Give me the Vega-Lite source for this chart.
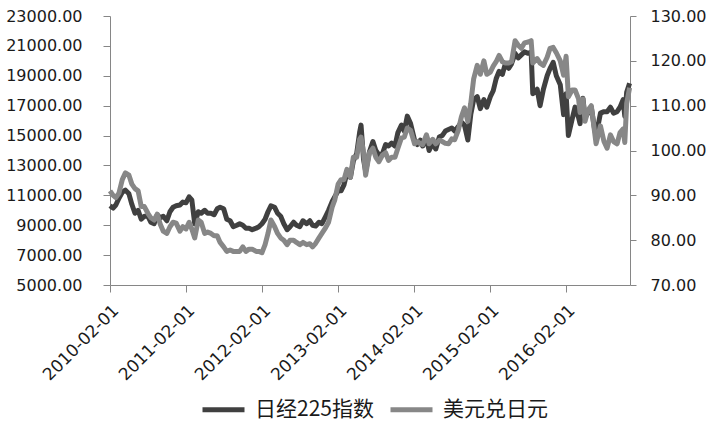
{
  "$schema": "https://vega.github.io/schema/vega-lite/v6.json",
  "width": 520,
  "height": 269,
  "autosize": {"type": "none"},
  "padding": {"left": 110, "top": 16, "right": 83, "bottom": 140},
  "background": "white",
  "config": {
    "view": {"stroke": null},
    "axis": {"labelFont": "DejaVu Sans", "labelFontSize": 16, "labelColor": "#1a1a1a", "domainColor": "#868686", "tickColor": "#868686", "grid": false, "ticks": true, "title": null}
  },
  "data": {"values": [
    {"date": "2010-02-01", "nikkei": 10300, "usdjpy": 91.0},
    {"date": "2010-02-16", "nikkei": 10150, "usdjpy": 90.0},
    {"date": "2010-03-01", "nikkei": 10350, "usdjpy": 89.5},
    {"date": "2010-03-16", "nikkei": 10800, "usdjpy": 90.5},
    {"date": "2010-04-01", "nikkei": 11200, "usdjpy": 93.5},
    {"date": "2010-04-16", "nikkei": 11350, "usdjpy": 95.0},
    {"date": "2010-05-03", "nikkei": 11100, "usdjpy": 94.5},
    {"date": "2010-05-17", "nikkei": 10400, "usdjpy": 92.5},
    {"date": "2010-06-01", "nikkei": 9800, "usdjpy": 91.5},
    {"date": "2010-06-16", "nikkei": 10000, "usdjpy": 91.0},
    {"date": "2010-07-01", "nikkei": 9400, "usdjpy": 87.5},
    {"date": "2010-07-16", "nikkei": 9600, "usdjpy": 87.5},
    {"date": "2010-08-02", "nikkei": 9600, "usdjpy": 86.0},
    {"date": "2010-08-16", "nikkei": 9200, "usdjpy": 85.0},
    {"date": "2010-09-01", "nikkei": 9100, "usdjpy": 84.5},
    {"date": "2010-09-16", "nikkei": 9700, "usdjpy": 85.8},
    {"date": "2010-10-01", "nikkei": 9500, "usdjpy": 83.5},
    {"date": "2010-10-15", "nikkei": 9600, "usdjpy": 82.0},
    {"date": "2010-11-01", "nikkei": 9300, "usdjpy": 81.5},
    {"date": "2010-11-16", "nikkei": 9900, "usdjpy": 83.0},
    {"date": "2010-12-01", "nikkei": 10200, "usdjpy": 84.0},
    {"date": "2010-12-16", "nikkei": 10300, "usdjpy": 83.8},
    {"date": "2011-01-03", "nikkei": 10350, "usdjpy": 82.0},
    {"date": "2011-01-17", "nikkei": 10550, "usdjpy": 83.0},
    {"date": "2011-02-01", "nikkei": 10500, "usdjpy": 82.5},
    {"date": "2011-02-16", "nikkei": 10900, "usdjpy": 84.0},
    {"date": "2011-03-01", "nikkei": 10700, "usdjpy": 82.5},
    {"date": "2011-03-15", "nikkei": 9100, "usdjpy": 80.5},
    {"date": "2011-04-01", "nikkei": 9900, "usdjpy": 84.5},
    {"date": "2011-04-15", "nikkei": 9800, "usdjpy": 84.0},
    {"date": "2011-05-02", "nikkei": 10000, "usdjpy": 81.5},
    {"date": "2011-05-16", "nikkei": 9800, "usdjpy": 81.8},
    {"date": "2011-06-01", "nikkei": 9800, "usdjpy": 81.5},
    {"date": "2011-06-16", "nikkei": 9700, "usdjpy": 81.0},
    {"date": "2011-07-01", "nikkei": 10100, "usdjpy": 81.0},
    {"date": "2011-07-15", "nikkei": 10200, "usdjpy": 79.5},
    {"date": "2011-08-01", "nikkei": 10100, "usdjpy": 78.5},
    {"date": "2011-08-16", "nikkei": 9400, "usdjpy": 77.5},
    {"date": "2011-09-01", "nikkei": 9300, "usdjpy": 77.8},
    {"date": "2011-09-16", "nikkei": 8900, "usdjpy": 77.5},
    {"date": "2011-10-03", "nikkei": 9000, "usdjpy": 77.5},
    {"date": "2011-10-17", "nikkei": 9100, "usdjpy": 77.5},
    {"date": "2011-11-01", "nikkei": 9000, "usdjpy": 78.5},
    {"date": "2011-11-16", "nikkei": 8800, "usdjpy": 77.5},
    {"date": "2011-12-01", "nikkei": 8800, "usdjpy": 78.0},
    {"date": "2011-12-16", "nikkei": 8700, "usdjpy": 78.0},
    {"date": "2012-01-04", "nikkei": 8800, "usdjpy": 77.5},
    {"date": "2012-01-17", "nikkei": 8900, "usdjpy": 77.5},
    {"date": "2012-02-01", "nikkei": 9100, "usdjpy": 77.2},
    {"date": "2012-02-16", "nikkei": 9400, "usdjpy": 79.0},
    {"date": "2012-03-01", "nikkei": 9900, "usdjpy": 81.5},
    {"date": "2012-03-15", "nikkei": 10300, "usdjpy": 84.5},
    {"date": "2012-04-02", "nikkei": 10200, "usdjpy": 83.0},
    {"date": "2012-04-16", "nikkei": 9800, "usdjpy": 81.5},
    {"date": "2012-05-01", "nikkei": 9600, "usdjpy": 80.5},
    {"date": "2012-05-16", "nikkei": 9100, "usdjpy": 80.0},
    {"date": "2012-06-01", "nikkei": 8700, "usdjpy": 79.0},
    {"date": "2012-06-15", "nikkei": 8900, "usdjpy": 80.0},
    {"date": "2012-07-02", "nikkei": 9200, "usdjpy": 80.0},
    {"date": "2012-07-16", "nikkei": 9000, "usdjpy": 79.5},
    {"date": "2012-08-01", "nikkei": 8900, "usdjpy": 79.0},
    {"date": "2012-08-16", "nikkei": 9300, "usdjpy": 79.5},
    {"date": "2012-09-03", "nikkei": 9100, "usdjpy": 79.0},
    {"date": "2012-09-18", "nikkei": 9300, "usdjpy": 79.2},
    {"date": "2012-10-01", "nikkei": 9000, "usdjpy": 78.5},
    {"date": "2012-10-16", "nikkei": 8950, "usdjpy": 79.3},
    {"date": "2012-11-01", "nikkei": 9200, "usdjpy": 80.5},
    {"date": "2012-11-15", "nikkei": 9100, "usdjpy": 81.5},
    {"date": "2012-12-03", "nikkei": 9600, "usdjpy": 82.8},
    {"date": "2012-12-17", "nikkei": 10000, "usdjpy": 84.0},
    {"date": "2013-01-04", "nikkei": 10600, "usdjpy": 87.5},
    {"date": "2013-01-16", "nikkei": 10900, "usdjpy": 89.0},
    {"date": "2013-02-01", "nikkei": 11300, "usdjpy": 92.5},
    {"date": "2013-02-15", "nikkei": 11300, "usdjpy": 93.5},
    {"date": "2013-03-01", "nikkei": 11700, "usdjpy": 93.5},
    {"date": "2013-03-15", "nikkei": 12500, "usdjpy": 95.8},
    {"date": "2013-04-01", "nikkei": 12200, "usdjpy": 94.0},
    {"date": "2013-04-15", "nikkei": 13300, "usdjpy": 98.5},
    {"date": "2013-05-01", "nikkei": 13800, "usdjpy": 98.5},
    {"date": "2013-05-15", "nikkei": 15200, "usdjpy": 102.5},
    {"date": "2013-05-22", "nikkei": 15700, "usdjpy": 103.0},
    {"date": "2013-06-03", "nikkei": 13400, "usdjpy": 99.5},
    {"date": "2013-06-13", "nikkei": 12600, "usdjpy": 94.5},
    {"date": "2013-07-01", "nikkei": 13900, "usdjpy": 99.5},
    {"date": "2013-07-18", "nikkei": 14600, "usdjpy": 100.5},
    {"date": "2013-08-01", "nikkei": 14000, "usdjpy": 98.5},
    {"date": "2013-08-16", "nikkei": 13700, "usdjpy": 97.5},
    {"date": "2013-09-02", "nikkei": 13800, "usdjpy": 99.0},
    {"date": "2013-09-17", "nikkei": 14400, "usdjpy": 99.5},
    {"date": "2013-10-01", "nikkei": 14300, "usdjpy": 97.8},
    {"date": "2013-10-16", "nikkei": 14500, "usdjpy": 98.5},
    {"date": "2013-11-01", "nikkei": 14300, "usdjpy": 98.5},
    {"date": "2013-11-15", "nikkei": 15200, "usdjpy": 100.5},
    {"date": "2013-12-02", "nikkei": 15700, "usdjpy": 102.8},
    {"date": "2013-12-16", "nikkei": 15300, "usdjpy": 103.0},
    {"date": "2013-12-30", "nikkei": 16300, "usdjpy": 105.0},
    {"date": "2014-01-15", "nikkei": 15800, "usdjpy": 104.5},
    {"date": "2014-02-03", "nikkei": 14700, "usdjpy": 101.5},
    {"date": "2014-02-17", "nikkei": 14400, "usdjpy": 102.0},
    {"date": "2014-03-03", "nikkei": 14700, "usdjpy": 101.5},
    {"date": "2014-03-14", "nikkei": 14300, "usdjpy": 101.3},
    {"date": "2014-04-01", "nikkei": 14800, "usdjpy": 103.5},
    {"date": "2014-04-14", "nikkei": 14000, "usdjpy": 101.5},
    {"date": "2014-05-01", "nikkei": 14500, "usdjpy": 102.5},
    {"date": "2014-05-16", "nikkei": 14100, "usdjpy": 101.5},
    {"date": "2014-06-02", "nikkei": 14900, "usdjpy": 102.3},
    {"date": "2014-06-16", "nikkei": 15000, "usdjpy": 102.0},
    {"date": "2014-07-01", "nikkei": 15300, "usdjpy": 101.6},
    {"date": "2014-07-16", "nikkei": 15400, "usdjpy": 101.5},
    {"date": "2014-08-01", "nikkei": 15500, "usdjpy": 102.6},
    {"date": "2014-08-15", "nikkei": 15300, "usdjpy": 102.4},
    {"date": "2014-09-01", "nikkei": 15600, "usdjpy": 104.5},
    {"date": "2014-09-16", "nikkei": 15900, "usdjpy": 107.5},
    {"date": "2014-10-01", "nikkei": 15700, "usdjpy": 109.5},
    {"date": "2014-10-17", "nikkei": 14700, "usdjpy": 106.5},
    {"date": "2014-10-31", "nikkei": 16400, "usdjpy": 110.5},
    {"date": "2014-11-14", "nikkei": 17400, "usdjpy": 116.0},
    {"date": "2014-12-01", "nikkei": 17600, "usdjpy": 119.0},
    {"date": "2014-12-16", "nikkei": 16800, "usdjpy": 117.0},
    {"date": "2015-01-02", "nikkei": 17400, "usdjpy": 120.0},
    {"date": "2015-01-16", "nikkei": 16900, "usdjpy": 117.0},
    {"date": "2015-02-02", "nikkei": 17600, "usdjpy": 117.5},
    {"date": "2015-02-16", "nikkei": 18000, "usdjpy": 118.8},
    {"date": "2015-03-02", "nikkei": 18800, "usdjpy": 119.8},
    {"date": "2015-03-16", "nikkei": 19300, "usdjpy": 121.2},
    {"date": "2015-04-01", "nikkei": 19100, "usdjpy": 119.8},
    {"date": "2015-04-15", "nikkei": 19800, "usdjpy": 119.5},
    {"date": "2015-05-01", "nikkei": 19500, "usdjpy": 119.5},
    {"date": "2015-05-15", "nikkei": 19800, "usdjpy": 119.8},
    {"date": "2015-06-01", "nikkei": 20500, "usdjpy": 124.5},
    {"date": "2015-06-16", "nikkei": 20200, "usdjpy": 123.5},
    {"date": "2015-07-01", "nikkei": 20400, "usdjpy": 122.8},
    {"date": "2015-07-16", "nikkei": 20600, "usdjpy": 124.0},
    {"date": "2015-08-03", "nikkei": 20500, "usdjpy": 124.2},
    {"date": "2015-08-17", "nikkei": 20600, "usdjpy": 124.5},
    {"date": "2015-08-25", "nikkei": 17800, "usdjpy": 119.5},
    {"date": "2015-09-15", "nikkei": 18100, "usdjpy": 120.5},
    {"date": "2015-09-29", "nikkei": 17000, "usdjpy": 119.5},
    {"date": "2015-10-15", "nikkei": 18100, "usdjpy": 119.0},
    {"date": "2015-11-02", "nikkei": 19000, "usdjpy": 120.8},
    {"date": "2015-11-16", "nikkei": 19500, "usdjpy": 122.8},
    {"date": "2015-12-01", "nikkei": 19900, "usdjpy": 123.0},
    {"date": "2015-12-16", "nikkei": 19000, "usdjpy": 121.8},
    {"date": "2016-01-04", "nikkei": 18400, "usdjpy": 120.0},
    {"date": "2016-01-20", "nikkei": 16400, "usdjpy": 116.8},
    {"date": "2016-02-01", "nikkei": 17800, "usdjpy": 121.0},
    {"date": "2016-02-12", "nikkei": 15000, "usdjpy": 112.0},
    {"date": "2016-03-01", "nikkei": 16100, "usdjpy": 113.5},
    {"date": "2016-03-15", "nikkei": 16900, "usdjpy": 113.5},
    {"date": "2016-04-01", "nikkei": 16200, "usdjpy": 111.5},
    {"date": "2016-04-08", "nikkei": 15800, "usdjpy": 108.5},
    {"date": "2016-04-22", "nikkei": 17500, "usdjpy": 111.5},
    {"date": "2016-05-02", "nikkei": 16200, "usdjpy": 106.5},
    {"date": "2016-05-16", "nikkei": 16500, "usdjpy": 109.0},
    {"date": "2016-06-01", "nikkei": 16900, "usdjpy": 110.0},
    {"date": "2016-06-16", "nikkei": 15500, "usdjpy": 104.5},
    {"date": "2016-06-24", "nikkei": 14950, "usdjpy": 101.5},
    {"date": "2016-07-15", "nikkei": 16500, "usdjpy": 105.5},
    {"date": "2016-08-01", "nikkei": 16600, "usdjpy": 102.0},
    {"date": "2016-08-16", "nikkei": 16600, "usdjpy": 100.5},
    {"date": "2016-09-01", "nikkei": 16900, "usdjpy": 103.5},
    {"date": "2016-09-16", "nikkei": 16500, "usdjpy": 102.0},
    {"date": "2016-10-03", "nikkei": 16600, "usdjpy": 101.5},
    {"date": "2016-10-17", "nikkei": 16900, "usdjpy": 104.0},
    {"date": "2016-11-01", "nikkei": 17400, "usdjpy": 104.8},
    {"date": "2016-11-09", "nikkei": 16300, "usdjpy": 101.8},
    {"date": "2016-11-18", "nikkei": 17900, "usdjpy": 110.5},
    {"date": "2016-12-02", "nikkei": 18500, "usdjpy": 114.0}
  ]},
  "encoding": {
    "x": {
      "field": "date", "type": "temporal",
      "scale": {"type": "utc", "domain": [{"year": 2010, "month": 2, "date": 1, "utc": true}, {"year": 2016, "month": 12, "date": 4, "utc": true}]},
      "axis": {
        "values": [
          {"year": 2010, "month": 2, "date": 1, "utc": true},
          {"year": 2011, "month": 2, "date": 1, "utc": true},
          {"year": 2012, "month": 2, "date": 1, "utc": true},
          {"year": 2013, "month": 2, "date": 1, "utc": true},
          {"year": 2014, "month": 2, "date": 1, "utc": true},
          {"year": 2015, "month": 2, "date": 1, "utc": true},
          {"year": 2016, "month": 2, "date": 1, "utc": true}
        ],
        "format": "%Y-%m-%d", "labelAngle": -45, "labelFontSize": 17, "tickSize": 7, "labelPadding": 10, "labelOverlap": false, "labelFlush": false
      }
    }
  },
  "layer": [
    {
      "mark": {"type": "line", "strokeWidth": 5, "strokeJoin": "round"},
      "encoding": {
        "y": {"field": "nikkei", "type": "quantitative", "scale": {"domain": [5000, 23000], "nice": false, "zero": false},
          "axis": {"values": [5000, 7000, 9000, 11000, 13000, 15000, 17000, 19000, 21000, 23000], "format": ".2f", "tickSize": 7, "labelPadding": 21}},
        "color": {"datum": "日经225指数", "type": "nominal",
          "scale": {"domain": ["日经225指数", "美元兑日元"], "range": ["#404040", "#878787"]},
          "legend": {"orient": "none", "legendX": 90, "legendY": 370, "direction": "horizontal", "title": null,
            "symbolType": "stroke", "symbolSize": 1764, "symbolStrokeWidth": 5,
            "labelFont": "Noto Sans CJK SC", "labelFontSize": 21, "labelColor": "#1a1a1a", "labelOffset": 8, "columnPadding": 6}}
      }
    },
    {
      "mark": {"type": "line", "strokeWidth": 5, "strokeJoin": "round"},
      "encoding": {
        "y": {"field": "usdjpy", "type": "quantitative", "scale": {"domain": [70, 130], "nice": false, "zero": false},
          "axis": {"orient": "right", "values": [70, 80, 90, 100, 110, 120, 130], "format": ".2f", "tickSize": 6, "labelPadding": 14}},
        "color": {"datum": "美元兑日元", "type": "nominal"}
      }
    }
  ],
  "resolve": {"scale": {"y": "independent"}}
}
